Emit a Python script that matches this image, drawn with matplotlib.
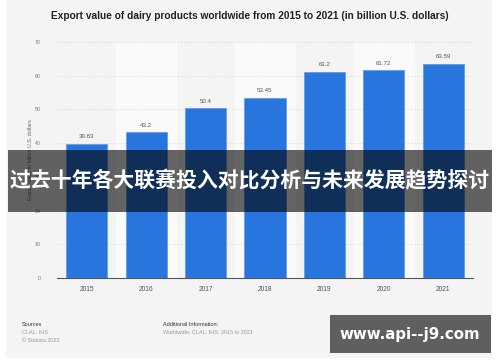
import matplotlib.pyplot as plt
from matplotlib.patches import Rectangle

# data
years = ['2015', '2016', '2017', '2018', '2019', '2020', '2021']
values = [39.83, 43.2, 50.4, 53.45, 61.2, 61.72, 63.59]
y_ticks = [0, 10, 20, 30, 40, 50, 60, 70]

title = 'Export value of dairy products worldwide from 2015 to 2021 (in billion U.S. dollars)'
ylabel = 'Export value in billion U.S. dollars'
overlay_text = '过去十年各大联赛投入对比分析与未来发展趋势探讨'
watermark = 'www.api--j9.com'

plt.rcParams['font.family'] = ['Liberation Sans', 'DejaVu Sans']

fig = plt.figure(figsize=(5, 3.62), dpi=100)
fig.patch.set_facecolor('white')

# light gray panel behind everything
fig.patches.append(Rectangle((6 / 500, 4 / 362), 486 / 500, 358 / 362, transform=fig.transFigure,
                             facecolor='#f4f4f4', edgecolor='none', zorder=-5))

ax = fig.add_axes([57 / 500, 84 / 362, 416 / 500, 236 / 362])
ax.set_zorder(1)
ax.patch.set_alpha(0)

x = list(range(len(years)))
for i in x:
    if i % 2 == 1:
        ax.axvspan(i - 0.5, i + 0.5, color='#fafafa', zorder=0)

bars = ax.bar(x, values, width=0.69, color='#2876dd', edgecolor='#5b98e6', linewidth=0.5, zorder=3)
for xi, v in zip(x, values):
    ax.text(xi, v + 1.3, f'{v:g}', ha='center', va='bottom', fontsize=4.4, color='#555555', zorder=4)

ax.set_xlim(-0.5, len(years) - 0.5)
ax.set_ylim(0, 70)
ax.set_yticks(y_ticks)
ax.set_xticks(x)
ax.set_xticklabels(years, fontsize=4.8, color='#555555')
ax.tick_params(axis='y', labelsize=3.8, labelcolor='#777777', length=0, pad=12)
ax.tick_params(axis='x', length=0, pad=6)
ax.grid(axis='y', linestyle=(0, (2, 2)), color='#dddddd', linewidth=0.6, zorder=1)
for s in ['top', 'right', 'left']:
    ax.spines[s].set_visible(False)
ax.spines['bottom'].set_color('#555555')
ax.spines['bottom'].set_linewidth(0.8)
ax.set_ylabel(ylabel, fontsize=3.9, color='#666666', labelpad=1)

fig.text(0.5, 1 - 16 / 362, title, ha='center', va='center', fontsize=7.3, fontweight='bold', color='#222222')

# footer
fig.text(22 / 500, 1 - 324 / 362, 'Sources', fontsize=4, color='#333333', va='center')
fig.text(22 / 500, 1 - 332 / 362, 'CLAL; IHS', fontsize=4, color='#999999', va='center')
fig.text(22 / 500, 1 - 340 / 362, '© Statista 2022', fontsize=4, color='#999999', va='center')
fig.text(163 / 500, 1 - 324 / 362, 'Additional Information:', fontsize=4, color='#333333', va='center')
fig.text(163 / 500, 1 - 332 / 362, 'Worldwide; CLAL; IHS; 2015 to 2021', fontsize=4, color='#999999', va='center')

# dark overlay band with headline
fig.patches.append(Rectangle((8 / 500, 1 - 212 / 362), 484 / 500, 62 / 362, transform=fig.transFigure,
                             facecolor='black', alpha=0.6, edgecolor='none', zorder=10))
fig.text(0.5, 1 - 181 / 362, overlay_text, ha='center', va='center', fontsize=15, fontweight='bold',
         color='white', family=['Noto Sans CJK SC', 'DejaVu Sans'], zorder=11)

# watermark box
fig.patches.append(Rectangle((330 / 500, 1 - 353 / 362), 161 / 500, 38 / 362, transform=fig.transFigure,
                             facecolor='#5f5f5f', edgecolor='none', zorder=10))
fig.text(410 / 500, 1 - 334 / 362, watermark, ha='center', va='center', fontsize=10.8, fontweight='bold',
         color='white', family=['DejaVu Sans'], zorder=11)

fig.savefig('out.png', dpi=100)
